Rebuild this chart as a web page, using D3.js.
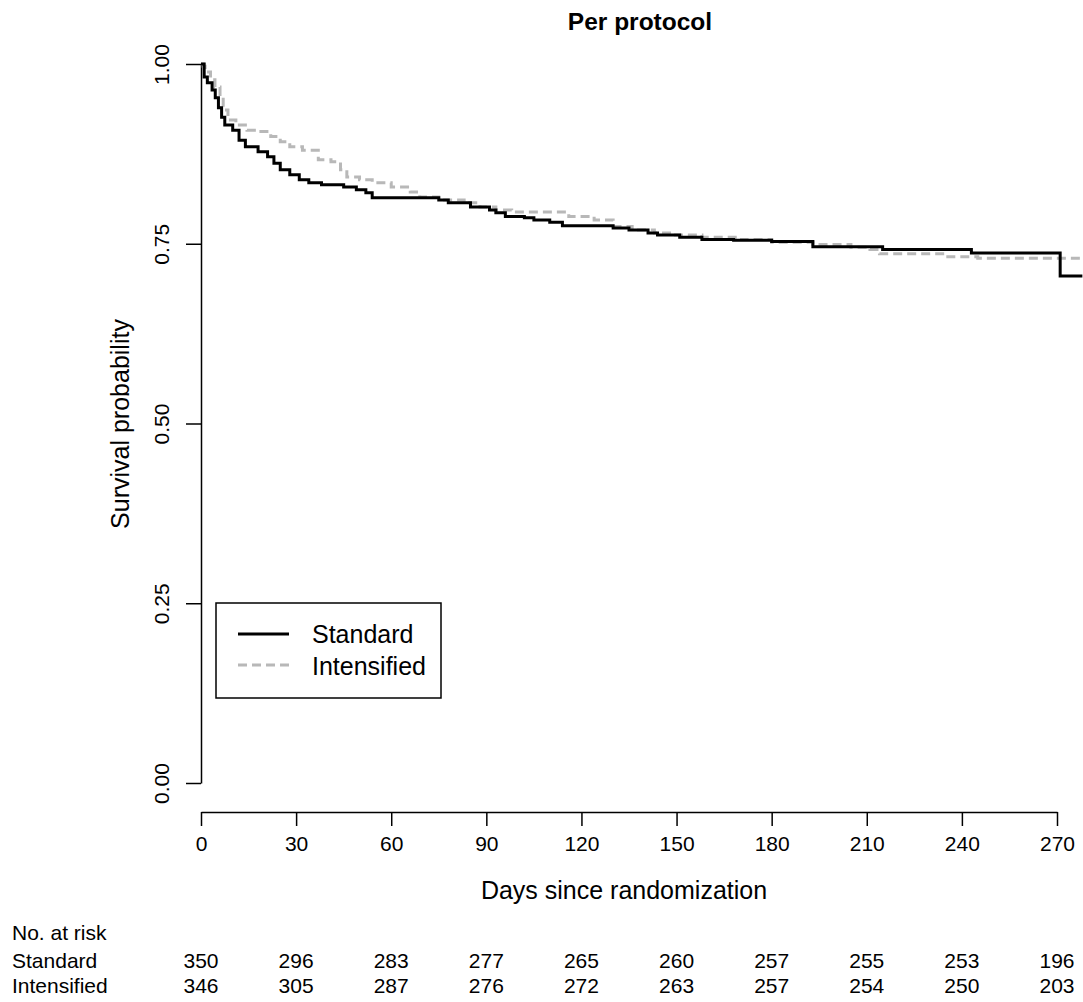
<!DOCTYPE html>
<html>
<head>
<meta charset="utf-8">
<script src="https://cdn.jsdelivr.net/npm/d3@7"></script>
<style>
  html, body { margin: 0; padding: 0; background: #fff; }
  svg { display: block; font-family: "Liberation Sans", Arial, sans-serif; }
</style>
</head>
<body>
<svg id="chart" width="1083" height="1002"></svg>
<script>
// ---- Data ----
const title = "Per protocol";
const xTicks = [0, 30, 60, 90, 120, 150, 180, 210, 240, 270];
const yTicks = [0, 0.25, 0.5, 0.75, 1.0];
const yTickLabels = ["0.00", "0.25", "0.50", "0.75", "1.00"];
const groups = ["Standard", "Intensified"];

// Kaplan-Meier step points (day, survival)
const standardTimes = [0, 1, 2, 3.5, 4.5, 5.5, 6.5, 7.5, 10, 12, 14, 18, 21, 23, 25, 28, 31, 34, 38, 45, 49, 52, 54,
  75, 78, 85, 91, 93, 96, 102, 105, 110, 114, 130, 135, 141, 144, 151, 158, 168, 180, 193, 215, 243, 271, 278];
const standardSurv = [1.0, 0.982, 0.974, 0.964, 0.953, 0.939, 0.926, 0.915, 0.908, 0.894, 0.885, 0.878, 0.871, 0.862, 0.853, 0.846, 0.839, 0.835, 0.832, 0.829, 0.825, 0.821, 0.814,
  0.811, 0.807, 0.801, 0.797, 0.793, 0.788, 0.786, 0.783, 0.780, 0.775, 0.772, 0.769, 0.765, 0.762, 0.759, 0.756, 0.755, 0.753, 0.746, 0.742, 0.737, 0.705, 0.705];

const intensifiedTimes = [0, 0.7, 1.3, 3, 4.4, 6, 7, 8.5, 11, 14.5, 17.5, 22, 25, 28, 32, 37, 41, 44, 46, 50, 54, 60, 66, 69,
  75, 83, 88, 93, 98, 116, 124, 130, 136, 143, 149, 158, 170, 180, 193, 205, 211, 214, 235, 245, 278];
const intensifiedSurv = [1.0, 0.997, 0.989, 0.978, 0.968, 0.953, 0.936, 0.922, 0.915, 0.908, 0.906, 0.899, 0.892, 0.885, 0.880, 0.867, 0.864, 0.853, 0.843, 0.839, 0.835, 0.829, 0.822, 0.815,
  0.811, 0.807, 0.801, 0.797, 0.794, 0.788, 0.783, 0.774, 0.769, 0.765, 0.762, 0.759, 0.756, 0.752, 0.749, 0.745, 0.742, 0.736, 0.732, 0.730, 0.730];

const riskStandard = [350, 296, 283, 277, 265, 260, 257, 255, 253, 196];
const riskIntensified = [346, 305, 287, 276, 272, 263, 257, 254, 250, 203];

// ---- Layout ----
const svg = d3.select("#chart");
const x = d3.scaleLinear().domain([0, 270]).range([201, 1057]);
const y = d3.scaleLinear().domain([0, 1]).range([783, 64]);

const colors = { Standard: "#000000", Intensified: "#b8b8b8" };

// Title
svg.append("text")
  .attr("x", 640).attr("y", 30)
  .attr("text-anchor", "middle")
  .attr("font-size", 24.5).attr("font-weight", "bold")
  .text(title);

// X axis
const xAxis = d3.axisBottom(x).tickValues(xTicks).tickSize(14).tickSizeOuter(0).tickPadding(10)
  .tickFormat(d3.format("d"));
const gx = svg.append("g").attr("transform", "translate(0,812)").call(xAxis);
gx.select(".domain").attr("stroke", "#000").attr("stroke-width", 1.5);
gx.selectAll(".tick line").attr("stroke", "#000").attr("stroke-width", 1.5);
gx.selectAll(".tick text").attr("font-size", 21).attr("fill", "#000").attr("font-family", "Liberation Sans, Arial, sans-serif");

svg.append("text")
  .attr("x", 624).attr("y", 899)
  .attr("text-anchor", "middle").attr("font-size", 25)
  .text("Days since randomization");

// Y axis
const yAxis = d3.axisLeft(y).tickValues(yTicks).tickSize(15).tickSizeOuter(0)
  .tickFormat((d, i) => yTickLabels[i]);
const gy = svg.append("g").attr("transform", "translate(201,0)").call(yAxis);
gy.select(".domain").attr("stroke", "#000").attr("stroke-width", 1.5);
gy.selectAll(".tick line").attr("stroke", "#000").attr("stroke-width", 1.5);
gy.selectAll(".tick text")
  .attr("font-size", 21).attr("fill", "#000").attr("font-family", "Liberation Sans, Arial, sans-serif")
  .attr("x", null)
  .attr("text-anchor", "middle")
  .attr("transform", "translate(-40,0) rotate(-90)")
  .attr("dy", "0.36em");

svg.append("text")
  .attr("transform", "translate(129,424) rotate(-90)")
  .attr("text-anchor", "middle").attr("font-size", 25)
  .text("Survival probability");

// Curves
const line = d3.line().x(d => x(d[0])).y(d => y(d[1])).curve(d3.curveStepAfter);
const standardData = standardTimes.map((t, i) => [t, standardSurv[i]]);
const intensifiedData = intensifiedTimes.map((t, i) => [t, intensifiedSurv[i]]);

svg.append("path").datum(intensifiedData)
  .attr("d", line).attr("fill", "none")
  .attr("stroke", colors.Intensified).attr("stroke-width", 3)
  .attr("stroke-dasharray", "9,5");

svg.append("path").datum(standardData)
  .attr("d", line).attr("fill", "none")
  .attr("stroke", colors.Standard).attr("stroke-width", 3);

// Legend
const lg = svg.append("g");
lg.append("rect").attr("x", 216).attr("y", 603).attr("width", 225).attr("height", 95)
  .attr("fill", "#fff").attr("stroke", "#000").attr("stroke-width", 1.5);
lg.append("line").attr("x1", 238).attr("x2", 289).attr("y1", 634).attr("y2", 634)
  .attr("stroke", colors.Standard).attr("stroke-width", 3);
lg.append("line").attr("x1", 238).attr("x2", 289).attr("y1", 665).attr("y2", 665)
  .attr("stroke", colors.Intensified).attr("stroke-width", 3).attr("stroke-dasharray", "9,5");
lg.append("text").attr("x", 312).attr("y", 643).attr("font-size", 25).text(groups[0]);
lg.append("text").attr("x", 312).attr("y", 675).attr("font-size", 25).text(groups[1]);

// Number at risk table
svg.append("text").attr("x", 12).attr("y", 940).attr("font-size", 21).text("No. at risk");
svg.append("text").attr("x", 12).attr("y", 968).attr("font-size", 21).text(groups[0]);
svg.append("text").attr("x", 12).attr("y", 993).attr("font-size", 21).text(groups[1]);
svg.append("g").selectAll("text").data(riskStandard).join("text")
  .attr("x", (d, i) => x(xTicks[i])).attr("y", 968)
  .attr("text-anchor", "middle").attr("font-size", 21).text(d => d);
svg.append("g").selectAll("text").data(riskIntensified).join("text")
  .attr("x", (d, i) => x(xTicks[i])).attr("y", 993)
  .attr("text-anchor", "middle").attr("font-size", 21).text(d => d);
</script>
</body>
</html>
